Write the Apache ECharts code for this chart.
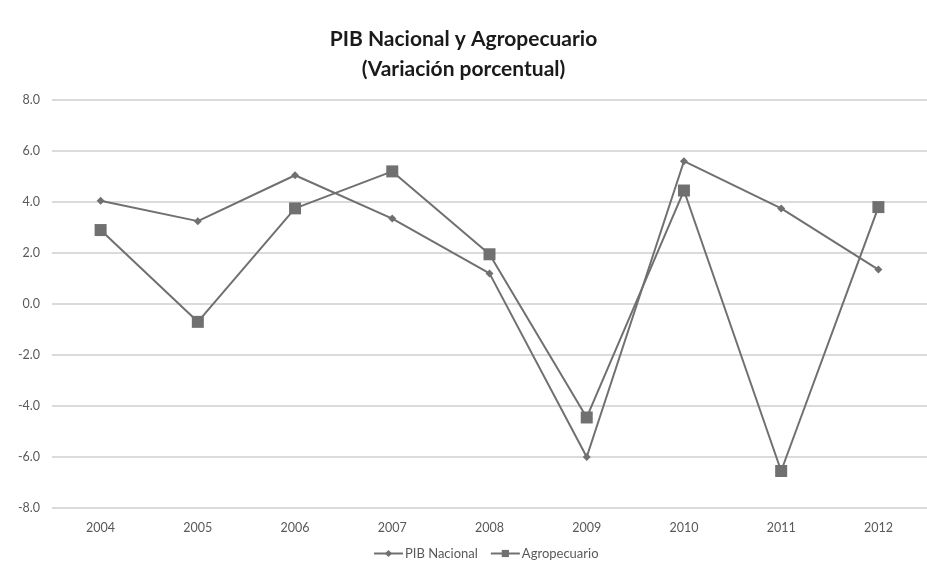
<!DOCTYPE html>
<html>
<head>
<meta charset="utf-8">
<script src="https://cdn.jsdelivr.net/npm/echarts@6/dist/echarts.min.js"></script>
<style>
  html, body { margin: 0; padding: 0; background: #fff; }
  #chart { width: 927px; height: 563px; }
</style>
</head>
<body>
<div id="chart"></div>
<script>
// años
var years = ['2004', '2005', '2006', '2007', '2008', '2009', '2010', '2011', '2012'];
// variación porcentual
var pibNacional = [4.05, 3.25, 5.05, 3.35, 1.2, -6.0, 5.6, 3.75, 1.35];
var agropecuario = [2.9, -0.7, 3.75, 5.2, 1.95, -4.45, 4.45, -6.55, 3.8];

var chart = echarts.init(document.getElementById('chart'));
var gris = '#707070';
var option = {
  backgroundColor: '#fff',
  animation: false,
  title: {
    text: 'PIB Nacional y Agropecuario\n(Variación porcentual)',
    left: 'center',
    top: 19,
    textStyle: {
      fontFamily: 'Lato',
      fontWeight: 'bold',
      fontSize: 21,
      lineHeight: 30,
      color: '#1a1a1a'
    }
  },
  grid: {
    left: 52,
    width: 883,
    top: 100,
    height: 408
  },
  legend: {
    top: 542,
    left: 368,
    itemWidth: 29,
    itemHeight: 9,
    itemGap: 12,
    textStyle: { fontFamily: 'Lato', fontSize: 13, color: '#595959', padding: [0, 0, 0, -3] },
    data: ['PIB Nacional', 'Agropecuario']
  },
  xAxis: {
    type: 'category',
    data: years,
    boundaryGap: true,
    axisLine: { show: false },
    axisTick: { show: false },
    axisLabel: { fontFamily: 'Lato', fontSize: 12.5, color: '#595959', margin: 13 }
  },
  yAxis: {
    type: 'value',
    min: -8,
    max: 8,
    interval: 2,
    axisLine: { show: false },
    axisTick: { show: false },
    axisLabel: {
      fontFamily: 'Lato', fontSize: 12.5, color: '#595959', margin: 12,
      formatter: function (v) { return v.toFixed(1); }
    },
    splitLine: { lineStyle: { color: '#cfcfcf', width: 1.5 } }
  },
  series: [
    {
      name: 'PIB Nacional',
      type: 'line',
      data: pibNacional,
      symbol: 'diamond',
      symbolSize: 8,
      color: gris,
      lineStyle: { width: 2, color: gris },
      itemStyle: { color: gris }
    },
    {
      name: 'Agropecuario',
      type: 'line',
      data: agropecuario,
      symbol: 'rect',
      symbolSize: 12,
      color: gris,
      lineStyle: { width: 2, color: gris },
      itemStyle: { color: gris }
    }
  ]
};
chart.setOption(option);
</script>
</body>
</html>
